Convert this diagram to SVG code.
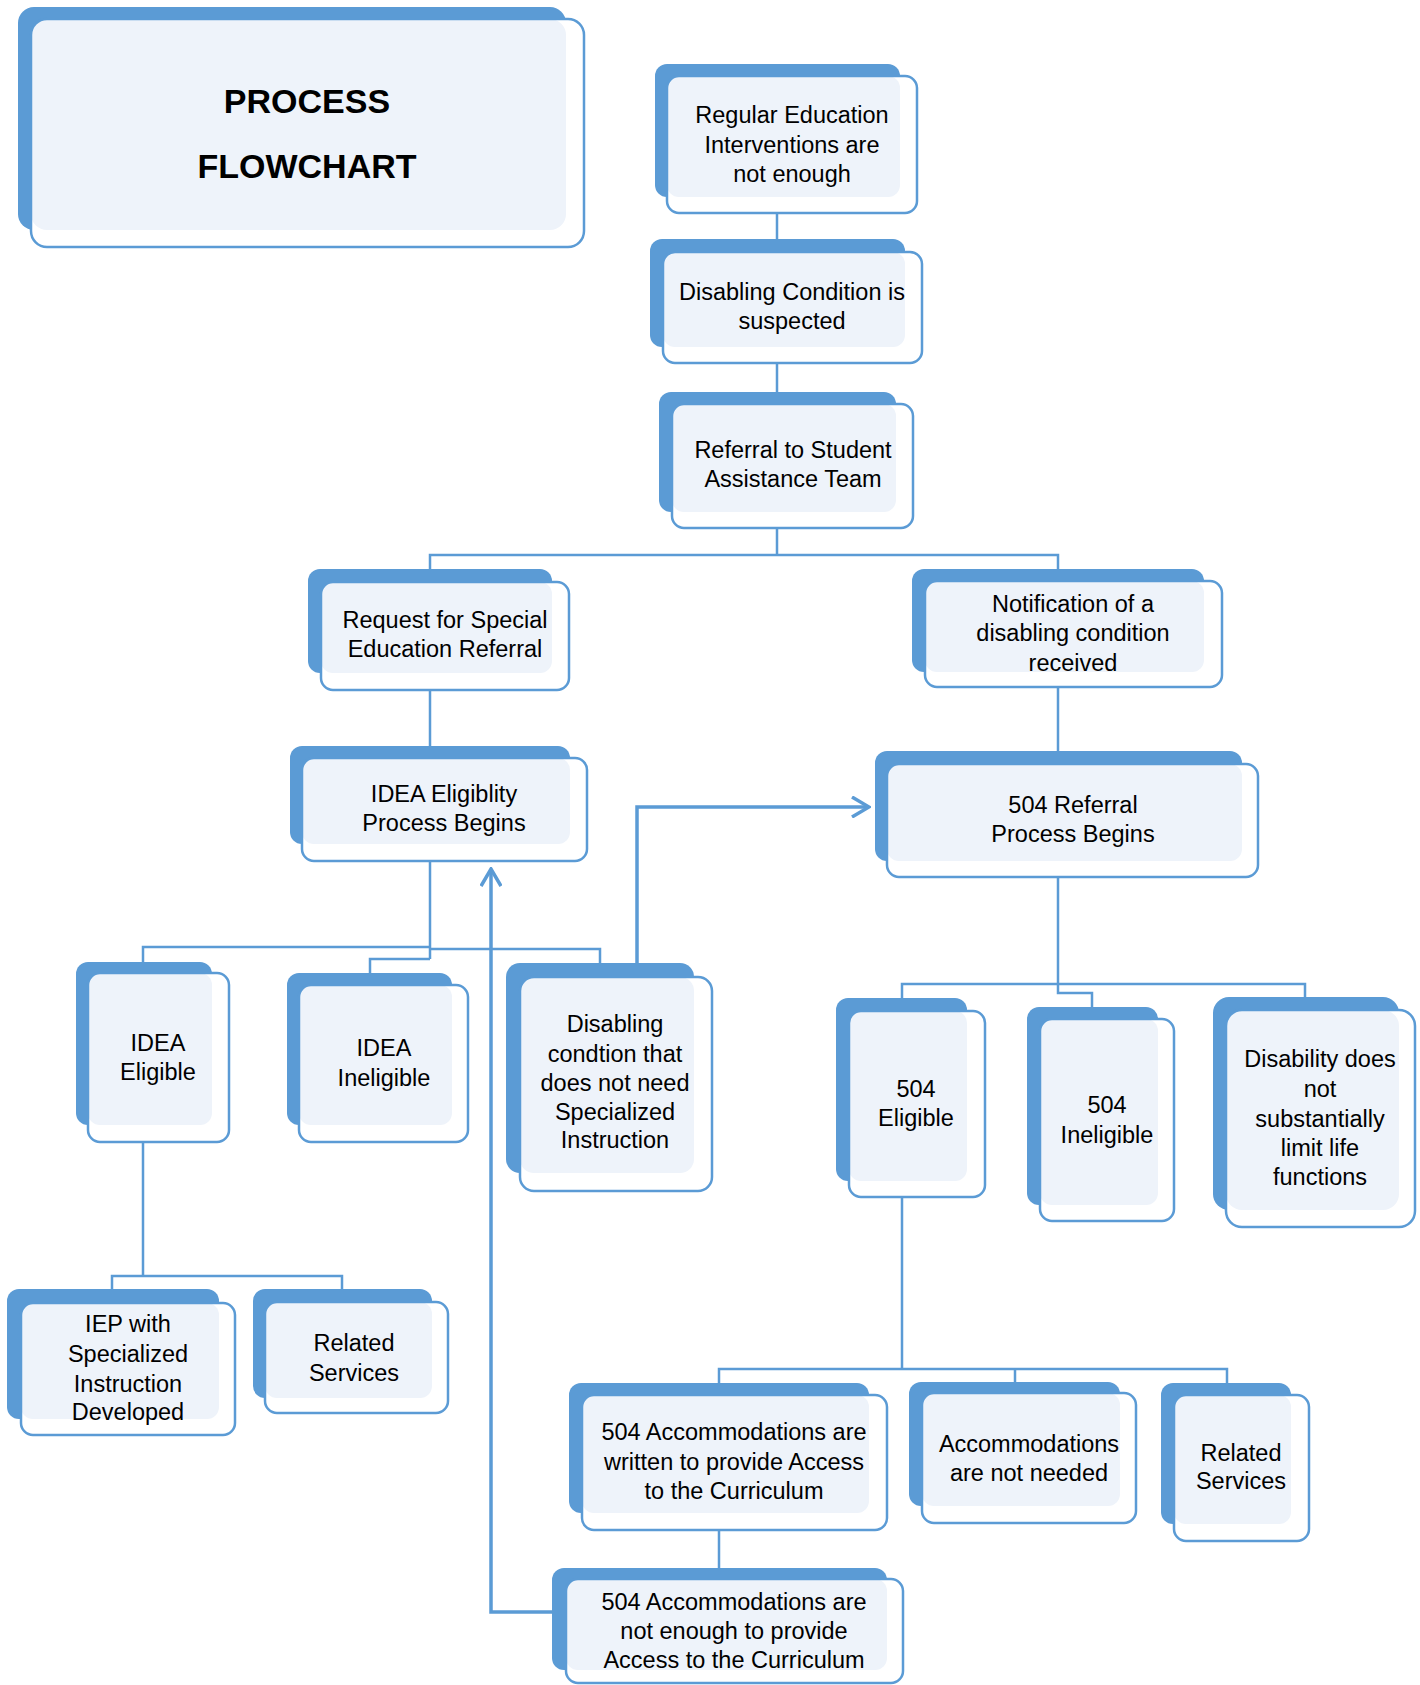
<svg xmlns="http://www.w3.org/2000/svg" width="1420" height="1685" viewBox="0 0 1420 1685">
<defs>
<style>
.bk{fill:#5B9BD5}
.fw{fill:#FFFFFF}
.lt{fill:#EEF3FA}
.fo{fill:none;stroke:#5B9BD5;stroke-width:2.5}
.c{fill:none;stroke:#5B9BD5;stroke-width:2.5}
.a{fill:none;stroke:#5B9BD5;stroke-width:3.5}
text{font-family:"Liberation Sans",Arial,sans-serif;font-size:23.5px;fill:#000;text-anchor:middle}
.t{font-size:34px;font-weight:bold}
</style>
<marker id="open" viewBox="0 0 20 22" refX="18" refY="11" markerWidth="20" markerHeight="22" markerUnits="userSpaceOnUse" orient="auto">
<path d="M1,1 L18,11 L1,21" fill="none" stroke="#5B9BD5" stroke-width="3.5"/>
</marker>
</defs>
<rect width="1420" height="1685" fill="#FFFFFF"/>
<g id="connectors">
<path class="c" d="M777,213 V239"/>
<path class="c" d="M777,363 V392"/>
<path class="c" d="M777,528 V555 M430,569 V555 H1058 V569"/>
<path class="c" d="M430,690 V746"/>
<path class="c" d="M1058,687 V751"/>
<path class="c" d="M430,861 V959 M143,962 V947 H430 M370,973 V959 H430 M430,949 H600 V963"/>
<path class="c" d="M143,1142 V1276 M112,1289 V1276 H342 V1289"/>
<path class="c" d="M1058,877 V993 H1092 V1007 M902,998 V984 H1305 V997"/>
<path class="c" d="M902,1197 V1369 M719,1383 V1369 H1227 V1383 M1015,1369 V1382"/>
<path class="c" d="M719,1530 V1568"/>
<path class="a" d="M637,963 V807 H869" marker-end="url(#open)"/>
<path class="a" d="M552,1612 H491 V869" marker-end="url(#open)"/>
</g>
<g id="title">
<rect class="bk" x="18" y="7" width="548" height="223" rx="16"/>
<rect class="fw" x="31" y="19" width="553" height="228" rx="16"/>
<rect class="lt" x="31" y="19" width="535" height="211" rx="16"/>
<rect class="fo" x="31" y="19" width="553" height="228" rx="16"/>
<text class="t" x="307" y="113">PROCESS</text>
<text class="t" x="307" y="178">FLOWCHART</text>
</g>
<g id="regular-education">
<rect class="bk" x="655" y="64" width="245" height="133" rx="12"/>
<rect class="fw" x="667" y="76" width="250" height="137" rx="12"/>
<rect class="lt" x="667" y="76" width="233" height="121" rx="12"/>
<rect class="fo" x="667" y="76" width="250" height="137" rx="12"/>
<text x="792" y="123">Regular Education</text>
<text x="792" y="153">Interventions are</text>
<text x="792" y="182">not enough</text>
</g>
<g id="disabling-condition">
<rect class="bk" x="650" y="239" width="255" height="108" rx="12"/>
<rect class="fw" x="663" y="252" width="259" height="111" rx="12"/>
<rect class="lt" x="663" y="252" width="242" height="95" rx="12"/>
<rect class="fo" x="663" y="252" width="259" height="111" rx="12"/>
<text x="792" y="300">Disabling Condition is</text>
<text x="792" y="329">suspected</text>
</g>
<g id="referral-sat">
<rect class="bk" x="659" y="392" width="237" height="120" rx="12"/>
<rect class="fw" x="672" y="404" width="241" height="124" rx="12"/>
<rect class="lt" x="672" y="404" width="224" height="108" rx="12"/>
<rect class="fo" x="672" y="404" width="241" height="124" rx="12"/>
<text x="793" y="458">Referral to Student</text>
<text x="793" y="487">Assistance Team</text>
</g>
<g id="request-special-ed">
<rect class="bk" x="308" y="569" width="244" height="104" rx="12"/>
<rect class="fw" x="321" y="582" width="248" height="108" rx="12"/>
<rect class="lt" x="321" y="582" width="231" height="91" rx="12"/>
<rect class="fo" x="321" y="582" width="248" height="108" rx="12"/>
<text x="445" y="628">Request for Special</text>
<text x="445" y="657">Education Referral</text>
</g>
<g id="notification">
<rect class="bk" x="912" y="569" width="292" height="103" rx="12"/>
<rect class="fw" x="925" y="581" width="297" height="106" rx="12"/>
<rect class="lt" x="925" y="581" width="279" height="91" rx="12"/>
<rect class="fo" x="925" y="581" width="297" height="106" rx="12"/>
<text x="1073" y="612">Notification of a</text>
<text x="1073" y="641">disabling condition</text>
<text x="1073" y="671">received</text>
</g>
<g id="idea-eligibility">
<rect class="bk" x="290" y="746" width="280" height="98" rx="12"/>
<rect class="fw" x="302" y="758" width="285" height="103" rx="12"/>
<rect class="lt" x="302" y="758" width="268" height="86" rx="12"/>
<rect class="fo" x="302" y="758" width="285" height="103" rx="12"/>
<text x="444" y="802">IDEA Eligiblity</text>
<text x="444" y="831">Process Begins</text>
</g>
<g id="referral-504">
<rect class="bk" x="875" y="751" width="367" height="110" rx="12"/>
<rect class="fw" x="887" y="764" width="371" height="113" rx="12"/>
<rect class="lt" x="887" y="764" width="355" height="97" rx="12"/>
<rect class="fo" x="887" y="764" width="371" height="113" rx="12"/>
<text x="1073" y="813">504 Referral</text>
<text x="1073" y="842">Process Begins</text>
</g>
<g id="idea-eligible">
<rect class="bk" x="76" y="962" width="136" height="163" rx="12"/>
<rect class="fw" x="88" y="973" width="141" height="169" rx="12"/>
<rect class="lt" x="88" y="973" width="124" height="152" rx="12"/>
<rect class="fo" x="88" y="973" width="141" height="169" rx="12"/>
<text x="158" y="1051">IDEA</text>
<text x="158" y="1080">Eligible</text>
</g>
<g id="idea-ineligible">
<rect class="bk" x="287" y="973" width="165" height="152" rx="12"/>
<rect class="fw" x="299" y="985" width="169" height="157" rx="12"/>
<rect class="lt" x="299" y="985" width="153" height="140" rx="12"/>
<rect class="fo" x="299" y="985" width="169" height="157" rx="12"/>
<text x="384" y="1056">IDEA</text>
<text x="384" y="1086">Ineligible</text>
</g>
<g id="disabling-no-si">
<rect class="bk" x="506" y="963" width="188" height="210" rx="14"/>
<rect class="fw" x="520" y="977" width="192" height="214" rx="14"/>
<rect class="lt" x="520" y="977" width="174" height="196" rx="14"/>
<rect class="fo" x="520" y="977" width="192" height="214" rx="14"/>
<text x="615" y="1032">Disabling</text>
<text x="615" y="1062">condtion that</text>
<text x="615" y="1091">does not need</text>
<text x="615" y="1120">Specialized</text>
<text x="615" y="1148">Instruction</text>
</g>
<g id="iep">
<rect class="bk" x="7" y="1289" width="212" height="130" rx="12"/>
<rect class="fw" x="21" y="1303" width="214" height="132" rx="12"/>
<rect class="lt" x="21" y="1303" width="198" height="116" rx="12"/>
<rect class="fo" x="21" y="1303" width="214" height="132" rx="12"/>
<text x="128" y="1332">IEP with</text>
<text x="128" y="1362">Specialized</text>
<text x="128" y="1392">Instruction</text>
<text x="128" y="1420">Developed</text>
</g>
<g id="related-services-idea">
<rect class="bk" x="253" y="1289" width="179" height="109" rx="12"/>
<rect class="fw" x="265" y="1302" width="183" height="111" rx="12"/>
<rect class="lt" x="265" y="1302" width="167" height="96" rx="12"/>
<rect class="fo" x="265" y="1302" width="183" height="111" rx="12"/>
<text x="354" y="1351">Related</text>
<text x="354" y="1381">Services</text>
</g>
<g id="eligible-504">
<rect class="bk" x="836" y="998" width="131" height="183" rx="12"/>
<rect class="fw" x="849" y="1011" width="136" height="186" rx="12"/>
<rect class="lt" x="849" y="1011" width="118" height="170" rx="12"/>
<rect class="fo" x="849" y="1011" width="136" height="186" rx="12"/>
<text x="916" y="1097">504</text>
<text x="916" y="1126">Eligible</text>
</g>
<g id="ineligible-504">
<rect class="bk" x="1027" y="1007" width="131" height="198" rx="12"/>
<rect class="fw" x="1040" y="1019" width="134" height="202" rx="12"/>
<rect class="lt" x="1040" y="1019" width="118" height="186" rx="12"/>
<rect class="fo" x="1040" y="1019" width="134" height="202" rx="12"/>
<text x="1107" y="1113">504</text>
<text x="1107" y="1143">Ineligible</text>
</g>
<g id="disability-not-limit">
<rect class="bk" x="1213" y="997" width="186" height="213" rx="16"/>
<rect class="fw" x="1226" y="1010" width="189" height="217" rx="16"/>
<rect class="lt" x="1226" y="1010" width="173" height="200" rx="16"/>
<rect class="fo" x="1226" y="1010" width="189" height="217" rx="16"/>
<text x="1320" y="1067">Disability does</text>
<text x="1320" y="1097">not</text>
<text x="1320" y="1127">substantially</text>
<text x="1320" y="1156">limit life</text>
<text x="1320" y="1185">functions</text>
</g>
<g id="acc-written">
<rect class="bk" x="569" y="1383" width="300" height="130" rx="12"/>
<rect class="fw" x="582" y="1395" width="305" height="135" rx="12"/>
<rect class="lt" x="582" y="1395" width="287" height="118" rx="12"/>
<rect class="fo" x="582" y="1395" width="305" height="135" rx="12"/>
<text x="734" y="1440">504 Accommodations are</text>
<text x="734" y="1470">written to provide Access</text>
<text x="734" y="1499">to the Curriculum</text>
</g>
<g id="acc-not-needed">
<rect class="bk" x="909" y="1382" width="211" height="124" rx="12"/>
<rect class="fw" x="922" y="1393" width="214" height="130" rx="12"/>
<rect class="lt" x="922" y="1393" width="198" height="113" rx="12"/>
<rect class="fo" x="922" y="1393" width="214" height="130" rx="12"/>
<text x="1029" y="1452">Accommodations</text>
<text x="1029" y="1481">are not needed</text>
</g>
<g id="related-services-504">
<rect class="bk" x="1161" y="1383" width="130" height="141" rx="12"/>
<rect class="fw" x="1174" y="1395" width="135" height="146" rx="12"/>
<rect class="lt" x="1174" y="1395" width="117" height="129" rx="12"/>
<rect class="fo" x="1174" y="1395" width="135" height="146" rx="12"/>
<text x="1241" y="1461">Related</text>
<text x="1241" y="1489">Services</text>
</g>
<g id="acc-not-enough">
<rect class="bk" x="552" y="1568" width="335" height="102" rx="12"/>
<rect class="fw" x="566" y="1579" width="337" height="104" rx="12"/>
<rect class="lt" x="566" y="1579" width="321" height="91" rx="12"/>
<rect class="fo" x="566" y="1579" width="337" height="104" rx="12"/>
<text x="734" y="1610">504 Accommodations are</text>
<text x="734" y="1639">not enough to provide</text>
<text x="734" y="1668">Access to the Curriculum</text>
</g>
</svg>
